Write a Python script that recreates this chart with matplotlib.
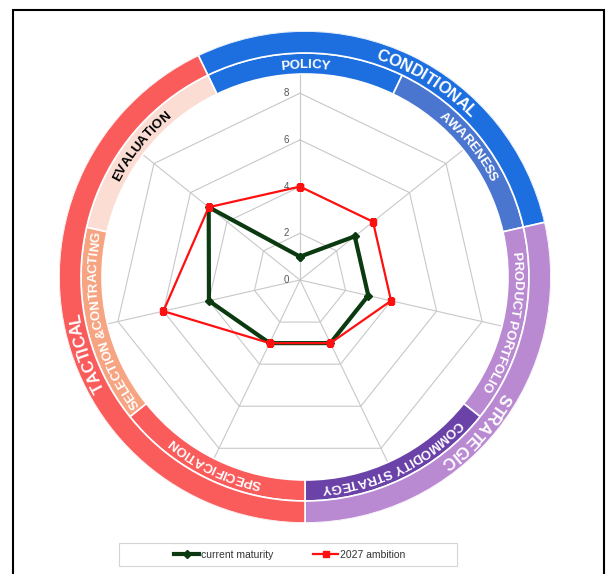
import numpy as np
import matplotlib
matplotlib.use('Agg')
import matplotlib.pyplot as plt
from matplotlib.patches import Rectangle
from matplotlib.font_manager import FontProperties
from matplotlib.textpath import TextToPath
from matplotlib.transforms import offset_copy

plt.rcParams['font.family'] = ['Liberation Sans', 'DejaVu Sans']

# dimensions, clockwise from the top
dimensions = ['POLICY', 'AWARENESS', 'PRODUCT PORTFOLIO', 'COMMODITY STRATEGY',
              'SPECIFICATION', 'SELECTION &CONTRACTING', 'EVALUATION']
current_maturity = [1, 3, 3, 3, 3, 4, 5]
ambition_2027 = [4, 4, 4, 3, 3, 6, 5]
r_ticks = [0, 2, 4, 6, 8]

# outer ring groups and how many dimensions each one covers
groups = ['CONDITIONAL', 'STRATEGIC', 'TACTICAL']
group_sizes = [2, 2, 3]

# colours
inner_colors = ['#1d6fe0', '#4a76d0', '#b98ad2', '#6a42a8', '#fa5b5b', '#f6a482', '#fcddd4']
inner_text = ['white'] * 6 + ['black']
outer_colors = ['#1d6fe0', '#b98ad2', '#fa5b5b']
group_label_deg = [32, 132, 251]   # where the group names sit on the ring

W, H = 608, 574
fig = plt.figure(figsize=(W / 100, H / 100), dpi=100)


def px_axes(cx, cy, radius):
    # axes rect (figure fraction) for a circle given in pixel coords
    return [(cx - radius) / W, (H - cy - radius) / H, 2 * radius / W, 2 * radius / H]


n = len(dimensions)
step = 2 * np.pi / n
theta = np.arange(n) * step
closed = np.append(theta, theta[0])

# ---- radar ----
unit_px = 23.35
r_max = 9.5
ax = fig.add_axes(px_axes(300, 280, r_max * unit_px), projection='polar')
ax.set_theta_zero_location('N')
ax.set_theta_direction(-1)
ax.set_ylim(0, r_max)
ax.axis('off')

grid_kw = dict(color='#c8c8c8', lw=0.8, zorder=1)
for r in r_ticks[1:]:
    ax.plot(closed, [r] * (n + 1), **grid_kw)
for t in theta:
    ax.plot([t, t], [0, r_max], **grid_kw)

lab_tr = offset_copy(ax.transData, fig=fig, x=-14, y=0, units='dots')
for r in r_ticks:
    ax.text(0, r, str(r), transform=lab_tr, ha='center', va='center',
            fontsize=7, color='#555555')

l1, = ax.plot(closed, np.append(current_maturity, current_maturity[0]),
              color='#0c3a10', lw=3, marker='D', ms=4, label='current maturity', zorder=3)
l2, = ax.plot(closed, np.append(ambition_2027, ambition_2027[0]),
              color='#ff1010', lw=1.6, marker='s', ms=5, label='2027 ambition', zorder=4)

# ---- ring ----
R = 246
rax = fig.add_axes(px_axes(305, 277, R), projection='polar')
rax.set_theta_zero_location('N')
rax.set_theta_direction(-1)
rax.set_ylim(0, R)
rax.axis('off')
rax.patch.set_alpha(0)

in_bot, in_h = 203, 21
out_bot, out_h = 224, 22
rax.bar(theta, in_h, width=step, bottom=in_bot, color=inner_colors,
        edgecolor='white', linewidth=1.2)
starts = np.cumsum([0] + group_sizes[:-1])
g_width = np.array(group_sizes) * step
g_center = theta[starts] - step / 2 + g_width / 2
rax.bar(g_center, out_h, width=g_width, bottom=out_bot, color=outer_colors,
        edgecolor='white', linewidth=1.2)

t2p = TextToPath()


def arc_text(s, center_deg, radius, size, color, weight):
    fp = FontProperties(family='Liberation Sans', size=size, weight=weight)
    base = t2p.get_text_width_height_descent('II', fp, ismath=False)[0]
    adv = np.array([t2p.get_text_width_height_descent('I' + c + 'I', fp, ismath=False)[0] - base
                    for c in s]) * 100 / 72
    pos = np.cumsum(adv) - adv / 2 - adv.sum() / 2
    # shift so the cap height, not the text box, is centred on the radius
    cap = size * 100 / 72 * 0.36
    for c, p in zip(s, pos):
        a = center_deg + np.degrees(p / radius)
        rax.text(np.radians(a), radius - cap, c, rotation=-a, rotation_mode='anchor',
                 ha='center', va='baseline', fontproperties=fp, color=color)


for name, t, col in zip(dimensions, theta, inner_text):
    arc_text(name, np.degrees(t), in_bot + in_h / 2, 9.5, col, 'bold')
for name, d in zip(groups, group_label_deg):
    arc_text(name, d, out_bot + out_h / 2, 12, 'white', 'bold')

# ---- legend and frame ----
fig.patches.append(Rectangle((119 / W, 1 - 566 / H), 338 / W, 23 / H, transform=fig.transFigure,
                             fill=False, edgecolor='#d4d4d4', lw=0.8))
fig.legend(handles=[l1, l2], loc='center', bbox_to_anchor=(290 / W, 1 - 554.5 / H), ncol=2,
           frameon=False, fontsize=7.5, handlelength=2.4, handletextpad=0.2,
           columnspacing=3.8, labelcolor='#333333')
fig.patches.append(Rectangle((13 / W, -0.05), 591 / W, 1.05 - 10 / H, transform=fig.transFigure,
                             fill=False, edgecolor='black', lw=1.5))

fig.savefig('out.png', dpi=100)
